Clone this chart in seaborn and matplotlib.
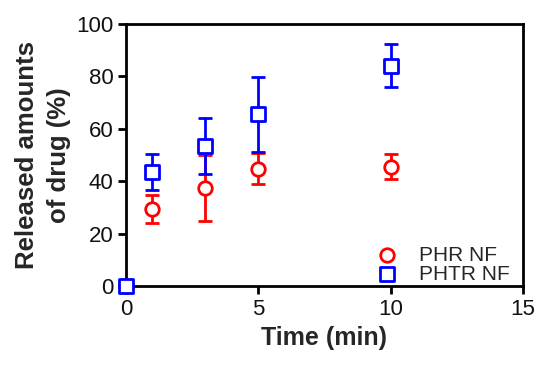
import pandas as pd
import numpy as np
import seaborn as sns
import matplotlib.pyplot as plt

# data
time_min = [0, 1, 3, 5, 10]
phr_mean = [0, 29.3, 37.5, 44.8, 45.6]
phr_err = [0, 5.3, 12.5, 5.8, 4.9]
phtr_mean = [0, 43.5, 53.6, 65.6, 84.0]
phtr_err = [0, 6.8, 10.7, 14.3, 8.2]
series_names = ['PHR NF', 'PHTR NF']

df = pd.DataFrame({
    'time': time_min * 2,
    'released': phr_mean + phtr_mean,
    'err': phr_err + phtr_err,
    'group': [series_names[0]] * len(time_min) + [series_names[1]] * len(time_min),
})

sns.set_style('ticks')
plt.rcParams['font.family'] = ['Liberation Sans', 'DejaVu Sans']

fig = plt.figure(figsize=(5.54, 3.75), dpi=100)
ax = fig.add_axes([0.2274, 0.2373, 0.7166, 0.6987])

colors = {'PHR NF': '#ff0000', 'PHTR NF': '#0000ff'}
markers = {'PHR NF': 'o', 'PHTR NF': 's'}

# error bars first
for name in series_names:
    sub = df[df['group'] == name]
    ax.errorbar(sub['time'], sub['released'], yerr=sub['err'], fmt='none',
                ecolor=colors[name], elinewidth=2, capsize=5, capthick=2, zorder=2)

# open markers
for name in series_names:
    sub = df[df['group'] == name]
    sns.scatterplot(data=sub, x='time', y='released', ax=ax, marker=markers[name],
                    s=95, facecolor='white', edgecolor=colors[name], linewidth=2,
                    label=name, zorder=3, clip_on=False)

ax.set_xlim(0, 15)
ax.set_ylim(0, 100)
ax.set_xticks([0, 5, 10, 15])
ax.set_yticks([0, 20, 40, 60, 80, 100])
ax.tick_params(axis='both', labelsize=16, width=2, length=6, color='black', labelcolor='#111111', pad=3)
for sp in ax.spines.values():
    sp.set_linewidth(2)
    sp.set_color('black')

ax.set_xlabel('Time (min)', fontsize=18, fontweight='bold', labelpad=5)
ax.set_ylabel('Released amounts\nof drug (%)', fontsize=18.5, fontweight='bold', labelpad=4,
              linespacing=1.4)

leg = ax.legend(loc='lower right', bbox_to_anchor=(0.987, -0.023), frameon=False,
                fontsize=15, handletextpad=1.0, borderaxespad=0.0, labelspacing=0.0,
                handlelength=1.0)

fig.savefig('out.png', dpi=100)
